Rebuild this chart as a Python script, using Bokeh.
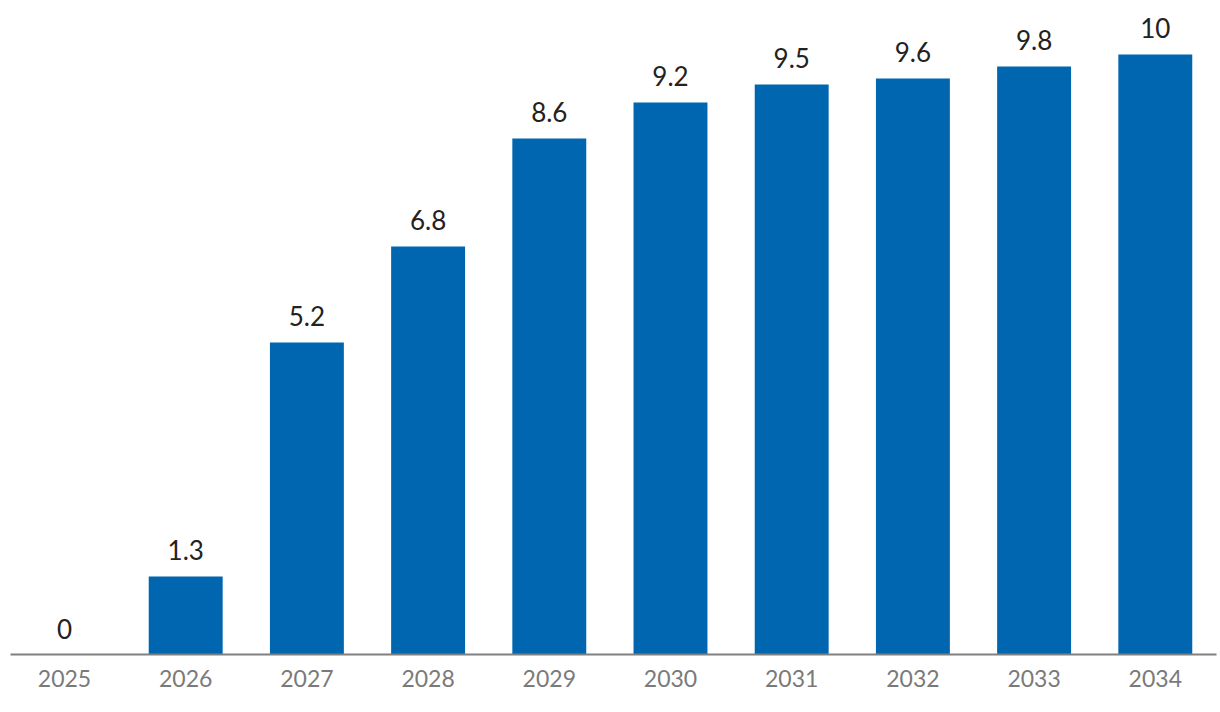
from bokeh.plotting import figure
from bokeh.models import ColumnDataSource, Range1d, FixedTicker
from bokeh.core.properties import value
from bokeh.embed import file_html
from bokeh.resources import INLINE

years = ["2025", "2026", "2027", "2028", "2029", "2030", "2031", "2032", "2033", "2034"]
values = [0, 1.3, 5.2, 6.8, 8.6, 9.2, 9.5, 9.6, 9.8, 10]
value_labels = ["0", "1.3", "5.2", "6.8", "8.6", "9.2", "9.5", "9.6", "9.8", "10"]

xs = list(range(len(years)))
src = ColumnDataSource(dict(x=xs, top=values, label=value_labels))

p = figure(width=1218, height=708, output_backend="svg", toolbar_location=None,
           x_range=Range1d(-0.4455, 9.505), y_range=Range1d(0, 10.733),
           min_border_left=10, min_border_right=2, min_border_top=10, min_border_bottom=54)
p.outline_line_color = None
p.grid.grid_line_color = None
p.yaxis.visible = False

p.vbar(x="x", top="top", width=0.61, bottom=0, source=src, color="#0066B0", line_color=None)
p.text(x="x", y="top", text="label", source=src, text_align="center",
       text_baseline="alphabetic", y_offset=-26, text_font=value("Lato"),
       text_font_size="26px", text_color="#222222")

ax = p.xaxis[0]
ax.ticker = FixedTicker(ticks=xs)
ax.major_label_overrides = {i: y for i, y in zip(xs, years)}
ax.axis_line_color = "#808080"
ax.axis_line_width = 2
ax.major_tick_line_color = None
ax.minor_tick_line_color = None
ax.major_label_text_font = "Lato"
ax.major_label_text_font_size = "23px"
ax.major_label_text_color = "#7a7a7a"
ax.major_label_standoff = 9

open("out.html", "w").write(file_html(p, INLINE))
